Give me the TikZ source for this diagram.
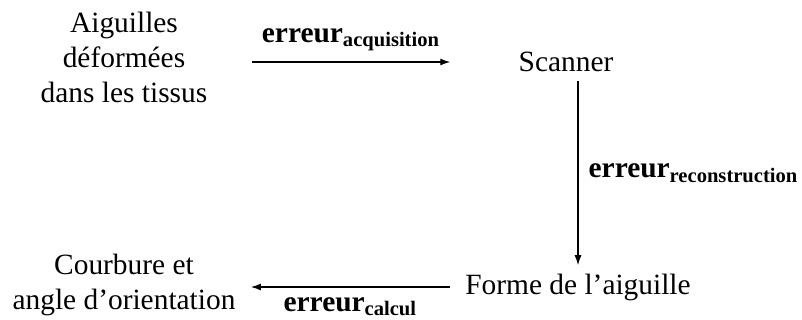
\documentclass[tikz,border=0pt]{standalone}
\usepackage{fontspec}
\setmainfont{Liberation Serif}
\usetikzlibrary{arrows.meta,positioning}

\begin{document}
\begin{tikzpicture}[
    x=0.5pt, y=-0.5pt,
    every node/.style={font=\fontsize{14.7}{17.5}\selectfont},
    etape/.style={align=center, inner sep=0pt},
    fleche/.style={-{Latex[length=5pt, width=3.5pt]}, line width=0.65pt},
    erreur/.style={font=\fontsize{14.7}{17.5}\selectfont\bfseries, inner sep=5pt},
]
    \useasboundingbox (0,0) rectangle (802,320);

    \node[etape] (aig) at (124,57) {Aiguilles\\déformées\\dans les tissus};
    \node[etape] (scan) at (566,62) {Scanner};
    \node[etape] (forme) at (578,287) {Forme de l'aiguille};
    \node[etape] (courb) at (124,285) {Courbure et\\angle d'orientation};

    \draw[fleche] ([xshift=22pt]aig.east |- scan.west) -- ([xshift=-34pt]scan.west)
        node[midway, above, erreur] {erreur\textsubscript{acquisition}};
    \draw[fleche] ([yshift=-4.5pt]forme.north |- scan.south) -- ([yshift=4pt]forme.north)
        node[midway, right, erreur] {erreur\textsubscript{reconstruction}};
    \draw[fleche] ([xshift=-7.5pt]forme.west) -- ([xshift=7.5pt]forme.west -| courb.east)
        node[midway, below, erreur] {erreur\textsubscript{calcul}};
\end{tikzpicture}
\end{document}
